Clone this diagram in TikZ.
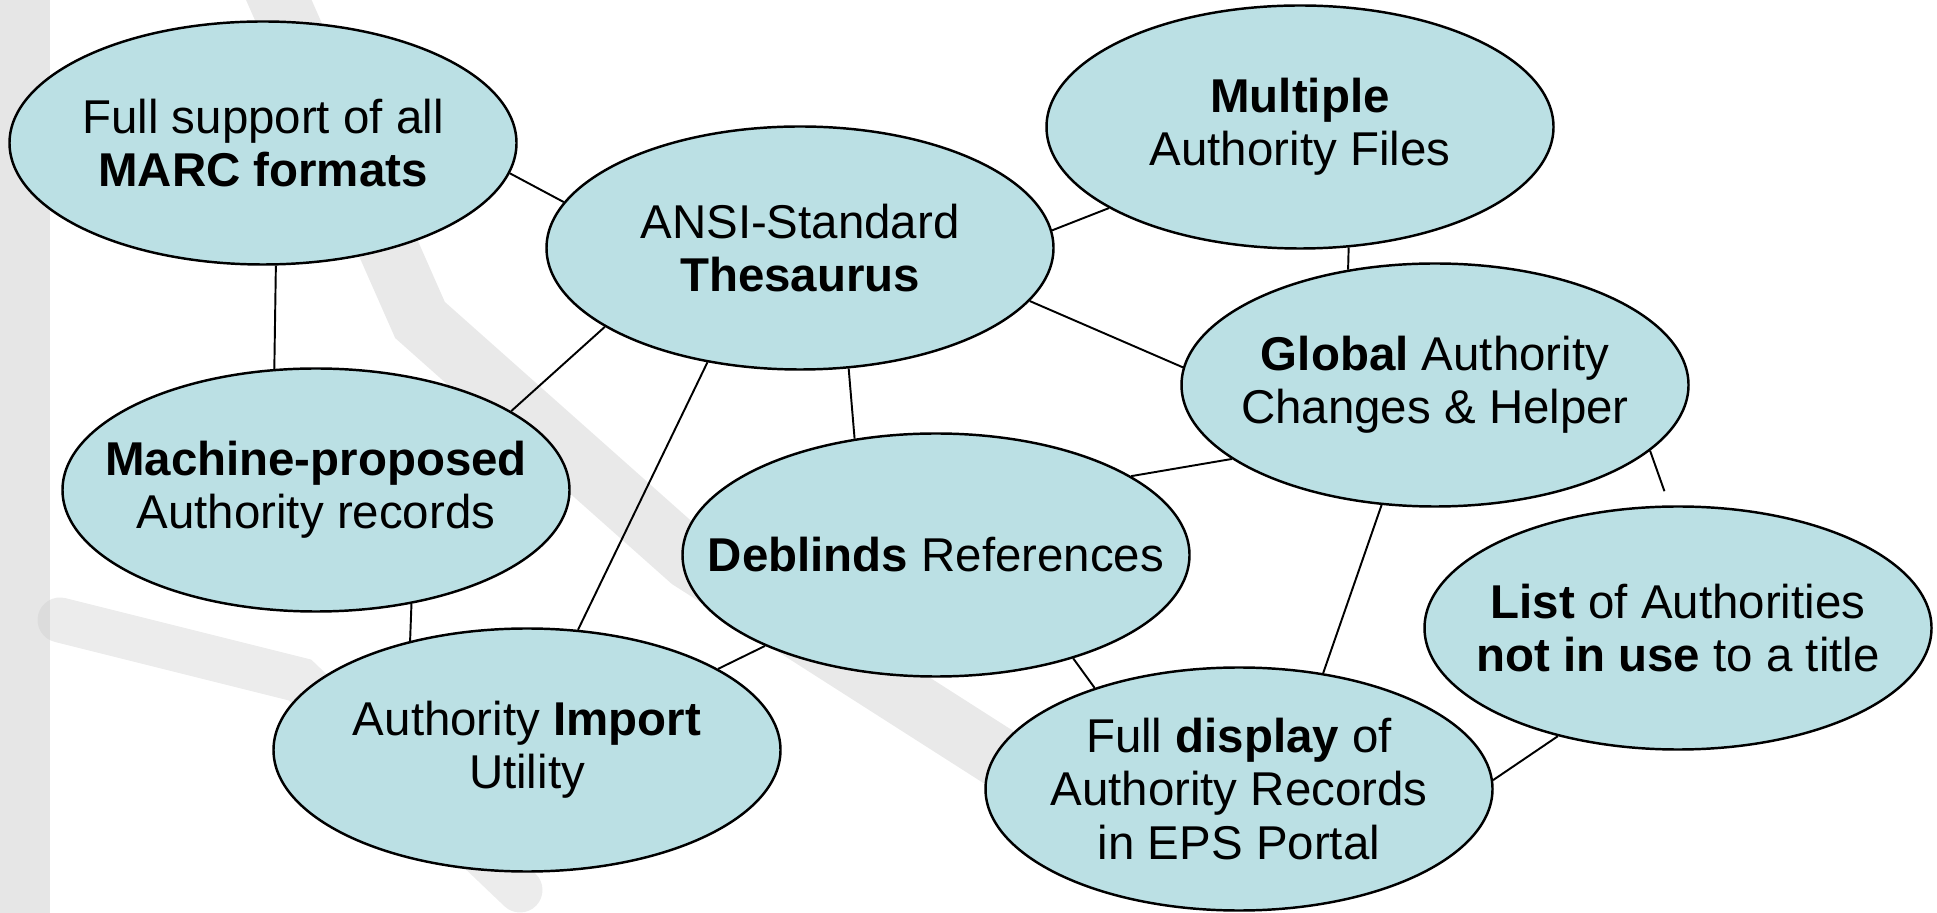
\documentclass[tikz,border=0pt]{standalone}
\usepackage{fontspec}
\setmainfont{Liberation Sans}
\usepackage{tikz}
\usetikzlibrary{shapes,positioning,calc}

\definecolor{bubble}{RGB}{187,224,228}
\definecolor{mapgray}{RGB}{200,200,200}

\begin{document}
\begin{tikzpicture}[
		idea/.style={ellipse, draw=black, line width=0.7pt, fill=bubble,
					minimum width=5.07cm, minimum height=2.43cm, inner xsep=-0.6cm, inner ysep=0pt,
					align=center, font=\fontsize{13.5}{15.2}\selectfont},
		link/.style={draw=black, line width=0.55pt}
	]
		\useasboundingbox (0,0) rectangle (19.37,-9.13);
		% faint map in the background
		\fill[mapgray, opacity=0.45] (0,0) rectangle (0.5,-9.13);
		\draw[mapgray, opacity=0.4, line width=0.6cm, line cap=round] (2.7,0.2) -- (4.2,-3.2) -- (6.9,-5.6) -- (10.5,-7.9);
		\draw[mapgray, opacity=0.35, line width=0.45cm, line cap=round] (0.6,-6.2) -- (3.0,-6.8) -- (5.2,-8.9);

		\node[idea] (marc) at (2.63,-1.43) {Full support of all\\ \textbf{MARC formats}};
		\node[idea] (ansi) at (8.00,-2.48) {ANSI-Standard\\ \textbf{Thesaurus}};
		\node[idea] (multi) at (13.00,-1.27) {\textbf{Multiple}\\ Authority Files};
		\node[idea] (global) at (14.35,-3.85) {\textbf{Global} Authority\\ Changes \& Helper};
		\node[idea] (machine) at (3.16,-4.90) {\textbf{Machine-proposed}\\ Authority records};
		\node[idea] (deblind) at (9.36,-5.55) {\textbf{Deblinds} References};
		\node[idea] (list) at (16.78,-6.28) {\textbf{List} of Authorities\\ \textbf{not in use} to a title};
		\node[idea] (import) at (5.27,-7.50) {Authority \textbf{Import}\\ Utility};
		\node[idea] (display) at (12.39,-7.89) {Full \textbf{display} of\\ Authority Records\\ in EPS Portal};

		\draw[link] (marc.276)--(machine.109);
		\draw[link] (marc.353)--(ansi.169);
		\draw[link] (ansi.4)--(multi.203);
		\draw[link] (multi.292)--(global.127);
		\draw[link] (ansi.347)--(global.176);
		\draw[link] (ansi.202)--(machine.22);
		\draw[link] (ansi.231)--(import.67);
		\draw[link] (ansi.292)--(deblind.125);
		\draw[link] (deblind.22)--(global.200);
		\draw[link] (machine.310)--(import.137);
		\draw[link] (deblind.208)--(import.23);
		\draw[link] (deblind.323)--(display.145);
		\draw[link] (global.246)--(display.54);
		\draw[link, shorten >=0.15cm] (global.343)--(list.94);
		\draw[link] (list.222)--(display.2);
	\end{tikzpicture}
\end{document}
